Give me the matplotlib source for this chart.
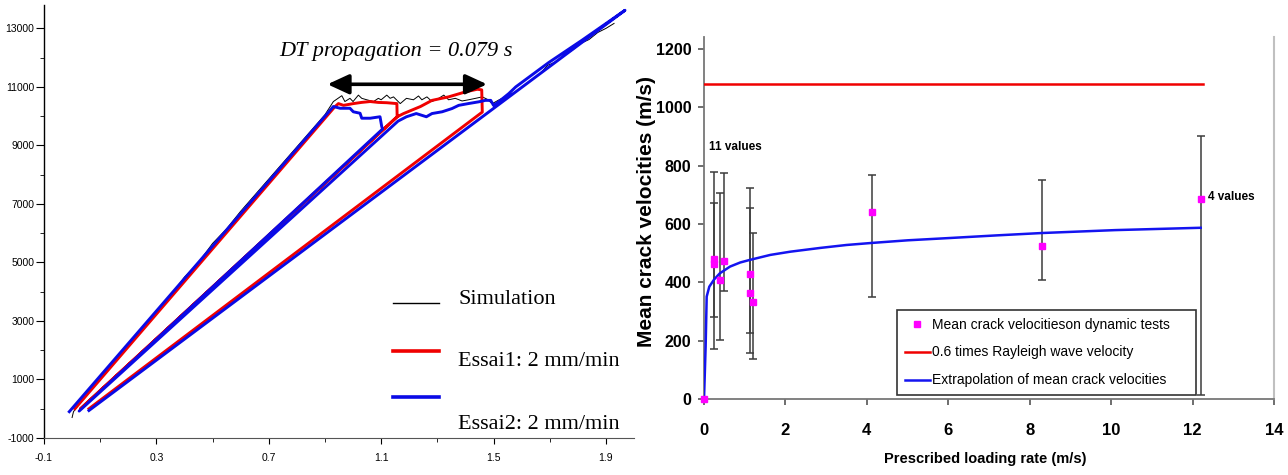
import matplotlib
matplotlib.use('Agg')
import matplotlib.pyplot as plt
from matplotlib import font_manager

# ---------------- data: left chart (force vs time, loading branches) ----------------
sim_x = [0.0, 0.005, 0.05, 0.1, 0.15, 0.2, 0.25, 0.3, 0.35, 0.4, 0.45, 0.5, 0.55, 0.6,
         0.65, 0.7, 0.75, 0.8, 0.85, 0.9, 0.93, 0.96, 0.971, 0.989, 1.0, 1.019, 1.031,
         1.049, 1.073, 1.09, 1.1, 1.12, 1.132, 1.144, 1.168, 1.19, 1.215, 1.233, 1.245,
         1.263, 1.281, 1.305, 1.323, 1.34, 1.364, 1.388, 1.411, 1.436, 1.46, 1.477, 1.495,
         1.507, 1.52, 1.537, 1.554, 1.579, 1.61, 1.632, 1.66, 1.693, 1.72, 1.75, 1.78,
         1.811, 1.84, 1.871, 1.9, 1.929]
sim_y = [-300, -100, 480, 1070, 1580, 2200, 2700, 3350, 3850, 4500, 5000, 5650, 6150, 6750,
         7300, 7850, 8400, 8950, 9500, 10050, 10500, 10700, 10500, 10610, 10500, 10720, 10610,
         10560, 10500, 10610, 10560, 10720, 10610, 10660, 10430, 10610, 10560, 10690, 10560,
         10660, 10500, 10610, 10720, 10560, 10610, 10520, 10560, 10610, 10660, 10580, 10430,
         10490, 10560, 10640, 10720, 10830, 11050, 11220, 11400, 11740, 11850, 12080, 12250,
         12490, 12620, 12860, 13000, 13170]

essai1_x = [0.01, 0.935, 0.948, 0.966, 1.001, 1.03, 1.061, 1.09, 1.12, 1.156, 1.157,
            0.03, 1.157, 1.18, 1.24, 1.281, 1.34, 1.4, 1.442, 1.458, 1.46, 0.06]
essai1_y = [0, 10320, 10430, 10370, 10430, 10470, 10500, 10470, 10460, 10430, 9980,
            0, 9980, 10090, 10330, 10540, 10660, 10830, 10920, 10900, 10140, 0]

essai2_x = [-0.01, 0.93, 0.954, 0.989, 1.001, 1.025, 1.031, 1.061, 1.096, 1.102, 1.105,
            0.025, 1.16, 1.19, 1.225, 1.261, 1.281, 1.317, 1.352, 1.376, 1.41, 1.447, 1.471,
            1.49, 1.5, 1.518, 1.554, 1.579, 1.696, 1.814, 1.968, 0.06]
essai2_y = [-100, 10330, 10270, 10270, 10150, 10100, 9930, 9930, 9980, 9650, 9560,
            -80, 9830, 9980, 10090, 9980, 10090, 10150, 10260, 10370, 10430, 10490, 10540,
            10540, 10370, 10490, 10770, 11000, 11830, 12590, 13620, -60]

left_xticks = [-0.1, 0.3, 0.7, 1.1, 1.5, 1.9]
left_xtick_labels = ['-0.1', '0.3', '0.7', '1.1', '1.5', '1.9']
left_yticks = [-1000, 1000, 3000, 5000, 7000, 9000, 11000, 13000]
left_legend_labels = ['Simulation', 'Essai1: 2 mm/min', 'Essai2: 2 mm/min']
dt_start, dt_end, dt_level = 0.909, 1.477, 11090
dt_text = 'DT propagation = 0.079 s'

# ---------------- data: right chart (crack velocities) ----------------
pts_x = [0, 0.25, 0.25, 0.39, 0.5, 1.13, 1.13, 1.2, 4.12, 8.3, 12.2]
pts_y = [0, 480, 462, 408, 474, 429, 362, 333, 640, 526, 685]

err_x = [0.25, 0.25, 0.39, 0.5, 1.14, 1.14, 1.2, 4.12, 8.3, 12.2]
err_low = [171, 280, 203, 371, 159, 225, 136, 351, 408, 14]
err_high = [777, 672, 706, 774, 722, 655, 568, 769, 752, 903]

rayleigh_x = [0, 12.25]
rayleigh_y = [1080, 1080]

extrap_x = [0, 0.02, 0.04, 0.066, 0.13, 0.25, 0.39, 0.64, 0.89, 1.13, 1.63, 2.12, 2.86,
            3.5, 4.12, 5.0, 6.05, 7.2, 8.3, 10.1, 12.2]
extrap_y = [0, 88, 180, 351, 385, 410, 431, 454, 468, 477, 494, 505, 518,
            528, 535, 544, 552, 561, 569, 579, 587]

right_legend_labels = ['Mean crack velocitieson dynamic tests',
                       '0.6 times Rayleigh wave velocity',
                       'Extrapolation of mean crack velocities']


def pick(*names):
    have = {f.name for f in font_manager.fontManager.ttflist}
    for n in names:
        if n in have:
            return n
    return 'DejaVu Sans'


serif = pick('Liberation Serif', 'DejaVu Serif')
sans = pick('Liberation Sans', 'DejaVu Sans')
narrow = pick('Liberation Sans Narrow', 'Liberation Sans', 'DejaVu Sans')

fig = plt.figure(figsize=(12.88, 4.75), dpi=100)

# ---------------- left chart ----------------
ax1 = fig.add_axes([44 / 1288, 37 / 475, 590 / 1288, 433 / 475])
ax1.plot(sim_x, sim_y, color='black', lw=0.7)
ax1.plot(essai1_x, essai1_y, color='#f00000', lw=2.1, solid_joinstyle='round')
ax1.plot(essai2_x, essai2_y, color='#0a0ae6', lw=2.1, solid_joinstyle='round')

ax1.set_xlim(-0.1, 2.0)
ax1.set_ylim(-1000, 13800)
ax1.set_xticks(left_xticks, labels=left_xtick_labels)
ax1.set_xticks([0.1, 0.5, 0.9, 1.3, 1.7], minor=True)
ax1.set_yticks(left_yticks, labels=[str(v) for v in left_yticks])
ax1.set_yticks(list(range(0, 12001, 2000)), minor=True)
for s in ('top', 'right'):
    ax1.spines[s].set_visible(False)
ax1.spines['left'].set_linewidth(1.0)
ax1.spines['bottom'].set_color('#555555')
ax1.tick_params(axis='y', which='major', length=6, pad=1, labelsize=7.5)
ax1.tick_params(axis='y', which='minor', length=3)
ax1.tick_params(axis='x', which='major', length=4, pad=7, labelsize=7.5)
ax1.tick_params(axis='x', which='minor', length=3)
for lab in ax1.get_xticklabels() + ax1.get_yticklabels():
    lab.set_family(sans)

ax1.annotate('', xy=(dt_start, dt_level), xytext=(dt_end, dt_level),
             arrowprops=dict(arrowstyle='<|-|>,head_length=0.65,head_width=0.3',
                             mutation_scale=20, lw=2.6, color='black',
                             shrinkA=0, shrinkB=0))
ax1.text((dt_start + dt_end) / 2 - 0.04, 12200, dt_text, family=serif, style='italic',
         fontsize=16, ha='center', va='center')

# hand-made legend
leg_colors = ['black', '#f00000', '#0a0ae6']
leg_widths = [1.0, 2.6, 2.6]
leg_line_y = [0.312, 0.201, 0.095]
leg_text_y = [0.321, 0.176, 0.032]
for lab, c, w, ly, ty in zip(left_legend_labels, leg_colors, leg_widths, leg_line_y, leg_text_y):
    ax1.plot([0.592, 0.669], [ly, ly], color=c, lw=w, transform=ax1.transAxes, clip_on=False)
    ax1.text(0.702, ty, lab, family=serif, fontsize=16, ha='left', va='center',
             transform=ax1.transAxes)

# ---------------- right chart ----------------
ax2 = fig.add_axes([704 / 1288, 76 / 475, 570 / 1288, 362 / 475])
mid = [(lo + hi) / 2 for lo, hi in zip(err_low, err_high)]
yerr = [[m - lo for m, lo in zip(mid, err_low)], [hi - m for m, hi in zip(mid, err_high)]]
ax2.errorbar(err_x, mid, yerr=yerr, fmt='none', ecolor='#3c3c3c', elinewidth=1.1,
             capsize=2.8, capthick=1.1, zorder=2)
ax2.plot(rayleigh_x, rayleigh_y, color='#f00000', lw=1.8, label=right_legend_labels[1], zorder=3)
ax2.plot(extrap_x, extrap_y, color='#1414f0', lw=1.8, label=right_legend_labels[2], zorder=3)
ax2.plot(pts_x, pts_y, 's', color='#ff00ff', ms=5, mec='#ff00ff', ls='none',
         label=right_legend_labels[0], clip_on=False, zorder=4)

ax2.set_xlim(0, 14)
ax2.set_ylim(0, 1241)
ax2.set_xticks(range(0, 15, 2))
ax2.set_yticks(range(0, 1201, 200))
ax2.spines['top'].set_visible(False)
ax2.spines['right'].set_color('#c0c0c0')
ax2.spines['right'].set_linewidth(1.5)
ax2.spines['left'].set_color('#777777')
ax2.spines['bottom'].set_color('#777777')
ax2.spines['left'].set_linewidth(1.3)
ax2.spines['bottom'].set_linewidth(1.3)
ax2.tick_params(axis='y', length=4, pad=5, width=1.2, color='#555555', labelsize=11.5)
ax2.tick_params(axis='x', length=4, pad=13, width=1.2, color='#555555', labelsize=12)
for lab in ax2.get_xticklabels() + ax2.get_yticklabels():
    lab.set_family(narrow)
    lab.set_fontweight('bold')

ax2.text(0.12, 863, '11 values', family=narrow, fontweight='bold', fontsize=8.5,
         ha='left', va='center')
ax2.text(12.38, 691, '4 values', family=narrow, fontweight='bold', fontsize=8.5,
         ha='left', va='center')

ax2.set_ylabel('Mean crack velocities (m/s)', family=sans, fontweight='bold', fontsize=15)
ax2.yaxis.set_label_coords(-0.085, 0.517)
ax2.set_xlabel('Prescribed loading rate (m/s)', family=narrow, fontweight='bold', fontsize=10.5)
ax2.xaxis.set_label_coords(0.493, -0.146)

h, l = ax2.get_legend_handles_labels()
order = [l.index(t) for t in right_legend_labels]
leg = ax2.legend([h[i] for i in order], [l[i] for i in order],
                 loc='lower left', bbox_to_anchor=(0.339, 0.011, 0.524, 0.238),
                 mode='expand', borderaxespad=0, fancybox=False, framealpha=1,
                 edgecolor='#333333', prop={'family': narrow, 'size': 10},
                 handlelength=1.8, handletextpad=0.15, labelspacing=1.0,
                 borderpad=0.55, markerscale=1.0)
leg.get_frame().set_linewidth(1.2)

fig.savefig('out.png', dpi=100)
